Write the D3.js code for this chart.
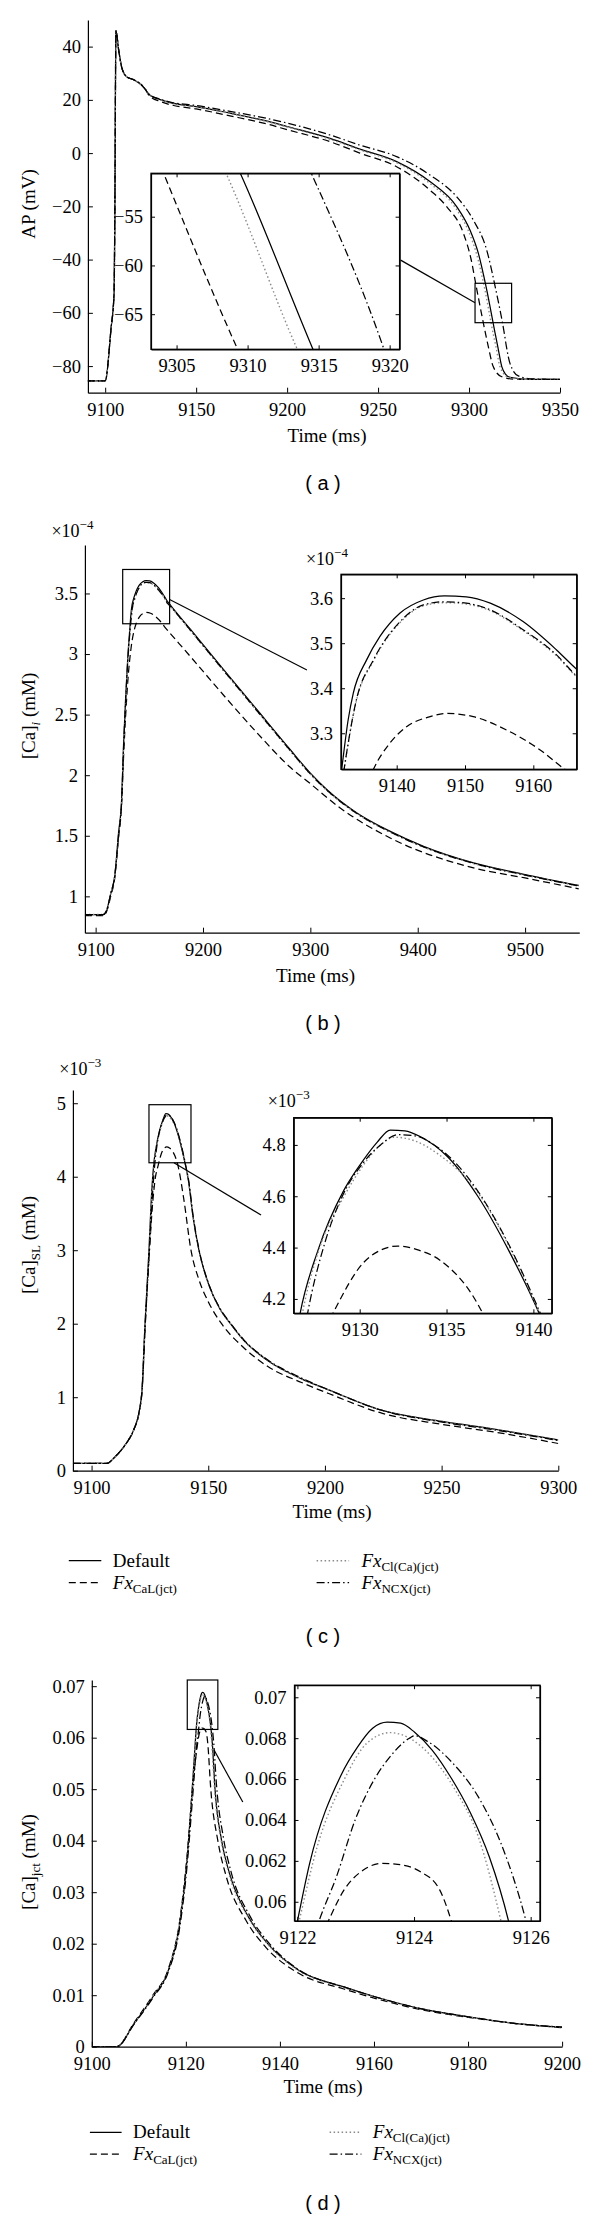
<!DOCTYPE html>
<html>
<head>
<meta charset="utf-8">
<script src="https://cdn.jsdelivr.net/npm/d3@7"></script>
<style>
body { margin: 0; background: #fff; }
text { font-family: "Liberation Serif", "Times New Roman", serif; fill: #000; }
.tag { font-family: "Liberation Sans", Arial, sans-serif; }
</style>
</head>
<body>
<div id="chart"></div>
<script>
// ---- (a) action potential, [time ms, mV]
var apUpstroke = [[9090,-85.6],[9100,-85.6],[9103.2,-66],[9104.9,-52.5],[9105.3,-24],[9105.9,46],[9107.4,38.8],
  [9109,32.5],[9111.6,28.8],[9115.8,27.5],[9120,25.6],[9122.2,23.8]];
var apDefaultTail = [[9124.3,21.9],[9130.6,20],[9136.9,18.8],[9150,17.5],[9168.6,15],[9189.7,11.9],[9200,10],
  [9223.6,5.5],[9240,1.5],[9260.2,-3.2],[9278.5,-10.7],[9293.2,-20.1],[9300.5,-28.9],[9305.1,-37.6],[9309.5,-50.6],
  [9314.6,-68.6],[9315.8,-72.7],[9318,-80.2],[9320,-83],[9322.5,-84.2],[9333.5,-85],[9350,-85]];
var apCaLTail = [[9124.3,21.5],[9130.6,19.3],[9136.9,18],[9150,16.6],[9168.6,14],[9189.7,10.8],[9200,8.8],
  [9223.6,4.3],[9240,0],[9260.2,-5.1],[9278.5,-13.9],[9287.7,-20.1],[9296.9,-30.1],[9301,-39.5],[9304.1,-50.6],
  [9309.3,-68.6],[9310.6,-72.7],[9313.3,-80.2],[9318,-84],[9326.2,-85],[9350,-85]];
var apClCaTail = [[9124.3,21.9],[9130.6,20],[9136.9,18.7],[9150,17.4],[9168.6,14.9],[9189.7,11.7],[9200,9.8],
  [9223.6,5.2],[9240,1.2],[9260.2,-3.6],[9278.5,-11.4],[9292.5,-20.5],[9299.5,-29],[9304.1,-37.8],[9308.5,-50.6],
  [9313.5,-68.6],[9314.8,-72.7],[9317,-80.2],[9321.5,-84.2],[9332,-85],[9350,-85]];
var apNCXTail = [[9124.3,22],[9130.6,20.2],[9136.9,19],[9150,17.9],[9168.6,15.7],[9189.7,12.9],[9200,11.3],
  [9223.6,6.8],[9240,3],[9260.2,-1.3],[9278.5,-8.2],[9293.2,-16.4],[9302.3,-25.1],[9309.7,-36.4],[9314.5,-50.6],
  [9319.6,-68.6],[9320.5,-72.5],[9322.5,-79],[9327.1,-83.7],[9335,-84.8],[9350,-85]];
var apDefault = apUpstroke.concat(apDefaultTail);
var apCaL = apUpstroke.concat(apCaLTail);
var apClCa = apUpstroke.concat(apClCaTail);
var apNCX = apUpstroke.concat(apNCXTail);

// ---- (b) [Ca]i, x1e-4 mM
var caiDefault = [[9090,0.85],[9107,0.85],[9110,0.88],[9114,1.02],[9117.8,1.17],[9121.3,1.52],[9124.2,1.8],[9126,2.25],
  [9128,2.65],[9130,2.98],[9131.95,3.22],[9132.9,3.33],[9133.65,3.389],[9135.6,3.463],[9137.55,3.515],[9140.5,3.567],
  [9143.9,3.596],[9147,3.605],[9150.2,3.603],[9153.7,3.589],[9158.5,3.548],[9163.4,3.485],[9166.35,3.442],[9170,3.4],
  [9188.2,3.205],[9219.2,2.872],[9250.3,2.54],[9281.3,2.21],[9300,2.017],[9315.5,1.88],[9343.4,1.688],[9374.4,1.536],
  [9405.4,1.413],[9452,1.276],[9500,1.18],[9550,1.09]];
var caiCaL = [[9090,0.84],[9107,0.84],[9110,0.87],[9114,1.0],[9117.8,1.15],[9121.3,1.48],[9124.2,1.76],[9126,2.15],
  [9128,2.5],[9130,2.78],[9133,3.05],[9136.6,3.22],[9139,3.278],[9141.5,3.315],[9144.9,3.337],[9147.3,3.344],
  [9151.2,3.337],[9156.1,3.307],[9161,3.263],[9164.6,3.22],[9170,3.165],[9188.2,2.98],[9219.2,2.66],[9250.3,2.35],
  [9281.3,2.065],[9300,1.93],[9327.8,1.729],[9374.4,1.482],[9452,1.235],[9500,1.152],[9550,1.062]];
var caiClCa = [[9090,0.85],[9107,0.85],[9110,0.88],[9114,1.02],[9117.8,1.17],[9121.3,1.5],[9124.2,1.78],[9126,2.21],
  [9128,2.61],[9130,2.94],[9132.3,3.218],[9134.1,3.372],[9136.6,3.461],[9140.5,3.546],[9143.9,3.583],[9147,3.59],
  [9150.2,3.587],[9153.7,3.572],[9158.5,3.528],[9163.4,3.472],[9166.35,3.425],[9170,3.388],[9188.2,3.195],
  [9219.2,2.862],[9250.3,2.53],[9281.3,2.2],[9300,2.008],[9315.5,1.873],[9343.4,1.682],[9374.4,1.53],[9405.4,1.407],
  [9452,1.271],[9500,1.175],[9550,1.085]];
var caiNCX = [[9090,0.85],[9107,0.85],[9110,0.88],[9114,1.02],[9117.8,1.17],[9121.3,1.5],[9124.2,1.78],[9126,2.22],
  [9128,2.62],[9130,2.95],[9132.3,3.22],[9134.1,3.374],[9136.6,3.463],[9140.5,3.548],[9143.9,3.585],[9147,3.592],
  [9150.2,3.589],[9153.7,3.574],[9158.5,3.53],[9163.4,3.474],[9166.35,3.427],[9170,3.39],[9188.2,3.197],
  [9219.2,2.864],[9250.3,2.532],[9281.3,2.203],[9300,2.01],[9315.5,1.875],[9343.4,1.683],[9374.4,1.531],
  [9405.4,1.408],[9452,1.272],[9500,1.176],[9550,1.086]];

// ---- (c) [Ca]SL, x1e-3 mM
var caslDefault = [[9092,0.1],[9106.6,0.1],[9109.8,0.18],[9114.8,0.37],[9118,0.55],[9120.5,0.82],[9121.6,1.09],
  [9122.9,2.0],[9124.6,3.0],[9125.6,3.7],[9126.57,4.144],[9127.6,4.39],[9129.1,4.625],[9130.2,4.74],[9131,4.81],
  [9131.76,4.858],[9132.6,4.855],[9133.5,4.832],[9135.06,4.754],[9136.8,4.6],[9138.57,4.39],[9140.33,4.144],
  [9141.5,3.95],[9143.5,3.45],[9146,3.0],[9150,2.55],[9155,2.2],[9159.5,2.0],[9165,1.78],[9175.4,1.5],[9190,1.25],
  [9201.6,1.1],[9224.6,0.82],[9250.3,0.67],[9273.8,0.56],[9300,0.42]];
var caslCaL = [[9092,0.1],[9106.6,0.1],[9109.8,0.18],[9114.8,0.37],[9118,0.55],[9120.5,0.82],[9121.6,1.09],
  [9123,2.0],[9124.8,3.0],[9126.2,3.65],[9127.3,3.98],[9128.46,4.144],[9130.2,4.34],[9131.2,4.39],[9132.2,4.406],
  [9133.4,4.39],[9134.6,4.352],[9137.08,4.144],[9139.5,3.7],[9142.6,3.0],[9146,2.6],[9150,2.3],[9155.7,2.0],
  [9165,1.68],[9175.4,1.42],[9190,1.2],[9201.6,1.05],[9224.6,0.78],[9250.3,0.63],[9273.8,0.52],[9300,0.37]];
var caslClCa = [[9092,0.1],[9106.6,0.1],[9109.8,0.18],[9114.8,0.37],[9118,0.55],[9120.5,0.82],[9121.6,1.08],
  [9122.9,1.99],[9124.6,2.98],[9125.8,3.75],[9126.7,4.144],[9127.7,4.4],[9129.1,4.6],[9130.2,4.72],[9131.2,4.8],
  [9132,4.83],[9133.2,4.815],[9134.5,4.765],[9136.8,4.615],[9138.6,4.405],[9140.35,4.144],[9141.5,3.95],[9143.5,3.45],
  [9146,3.0],[9150,2.55],[9155,2.2],[9159.5,2.0],[9165,1.78],[9175.4,1.5],[9190,1.25],[9201.6,1.1],[9224.6,0.82],
  [9250.3,0.665],[9273.8,0.555],[9300,0.415]];
var caslNCX = [[9092,0.1],[9106.6,0.1],[9109.8,0.18],[9114.8,0.37],[9118,0.55],[9120.5,0.82],[9121.6,1.07],
  [9123,1.98],[9124.7,2.95],[9126,3.7],[9127,4.144],[9128,4.42],[9129,4.6],[9130.2,4.73],[9131.2,4.8],[9132.2,4.84],
  [9133.2,4.835],[9134.5,4.79],[9135.06,4.76],[9136.8,4.62],[9138.6,4.41],[9140.4,4.144],[9141.6,3.95],[9143.6,3.45],
  [9146.1,3.0],[9150,2.56],[9155,2.21],[9159.5,2.01],[9165,1.79],[9175.4,1.51],[9190,1.26],[9201.6,1.1],
  [9224.6,0.82],[9250.3,0.66],[9273.8,0.55],[9300,0.41]];

// ---- (d) [Ca]jct, mM
var cajDefault = [[9100,0],[9105.3,0],[9109,0.0045],[9113,0.0097],[9116.3,0.0149],[9118.7,0.0239],[9120.3,0.0368],
  [9121.2,0.048],[9122,0.05906],[9122.21,0.06188],[9122.75,0.0662],[9123.03,0.06756],[9123.29,0.06848],
  [9123.54,0.06878],[9123.77,0.06873],[9124.01,0.06829],[9124.31,0.06742],[9124.64,0.06604],[9124.97,0.06433],
  [9125.29,0.0622],[9125.62,0.05906],[9126.2,0.05],[9127.6,0.04],[9129.3,0.0336],[9133.3,0.0252],[9137.4,0.02],
  [9143.9,0.0149],[9153.6,0.0116],[9160.2,0.0097],[9169.9,0.0074],[9180.1,0.0058],[9190.2,0.0045],[9200,0.0038]];
var cajCaL = [[9100,0],[9105.3,0],[9109,0.0047],[9113,0.01],[9116.3,0.0152],[9118.7,0.0245],[9120.3,0.0375],
  [9121.5,0.051],[9122.53,0.05906],[9122.8,0.06058],[9123.13,0.06155],[9123.46,0.06188],[9123.72,0.06183],
  [9124.11,0.06147],[9124.44,0.06058],[9124.64,0.05906],[9125.3,0.05],[9126.8,0.04],[9128.6,0.033],[9132.8,0.0245],
  [9137,0.0193],[9143.9,0.0143],[9153.6,0.0112],[9160.2,0.0094],[9169.9,0.0072],[9180.1,0.0057],[9190.2,0.0045],
  [9200,0.0037]];
var cajClCa = [[9100,0],[9105.3,0],[9109,0.0045],[9113,0.0098],[9116.3,0.015],[9118.7,0.024],[9120.3,0.037],
  [9121.2,0.048],[9122.03,0.05906],[9122.34,0.0627],[9122.8,0.06596],[9123.19,0.06775],[9123.59,0.06827],
  [9123.98,0.0679],[9124.3,0.0671],[9124.7,0.0655],[9125.1,0.0632],[9125.49,0.05906],[9126.1,0.05],[9127.5,0.04],
  [9129.2,0.0334],[9133.3,0.025],[9137.4,0.0199],[9143.9,0.0148],[9153.6,0.0115],[9160.2,0.0096],[9169.9,0.0074],
  [9180.1,0.0058],[9190.2,0.0045],[9200,0.0038]];
var cajNCX = [[9100,0],[9105.3,0],[9109,0.0044],[9113,0.0095],[9116.3,0.0146],[9118.7,0.0232],[9120.3,0.0355],
  [9121.4,0.048],[9122.37,0.05906],[9122.67,0.06123],[9122.99,0.064],[9123.33,0.06604],[9123.59,0.0671],
  [9123.92,0.068],[9124.01,0.06812],[9124.24,0.06783],[9124.64,0.06685],[9125.1,0.06514],[9125.49,0.06286],
  [9125.92,0.05906],[9126.5,0.051],[9128,0.0405],[9129.6,0.034],[9133.6,0.0254],[9137.6,0.0202],[9143.9,0.015],
  [9153.6,0.0116],[9160.2,0.0097],[9169.9,0.0074],[9180.1,0.0058],[9190.2,0.0045],[9200,0.0038]];

// ---- ticks
var apXTicks = [9100,9150,9200,9250,9300,9350], apYTicks = [-80,-60,-40,-20,0,20,40];
var apInsetXTicks = [9305,9310,9315,9320], apInsetYTicks = [-65,-60,-55];
var caiXTicks = [9100,9200,9300,9400,9500], caiYTicks = [1,1.5,2,2.5,3,3.5];
var caiInsetXTicks = [9140,9150,9160], caiInsetYTicks = [3.3,3.4,3.5,3.6];
var caslXTicks = [9100,9150,9200,9250,9300], caslYTicks = [0,1,2,3,4,5];
var caslInsetXTicks = [9130,9135,9140], caslInsetYTicks = [4.2,4.4,4.6,4.8];
var cajXTicks = [9100,9120,9140,9160,9180,9200], cajYTicks = [0,0.01,0.02,0.03,0.04,0.05,0.06,0.07];
var cajInsetXTicks = [9122,9124,9126], cajInsetYTicks = [0.06,0.062,0.064,0.066,0.068,0.07];

// legend entries: name + subscript
var legendNames = ['Default', 'Fx', 'Fx', 'Fx'];
var legendSubs = ['', 'CaL(jct)', 'Cl(Ca)(jct)', 'NCX(jct)'];

// line styles in series order: Default, FxCaL, FxCl(Ca), FxNCX
var styles = [
  { dash: null, color: '#000' },
  { dash: '7,4', color: '#000' },
  { dash: '1.5,2.5', color: '#8a8a8a' },
  { dash: '8,3,1.5,3', color: '#000' }
];

var svg = d3.select('#chart').append('svg')
  .attr('width', 600).attr('height', 2221)
  .attr('viewBox', '0 0 600 2221');
svg.append('rect').attr('width', 600).attr('height', 2221).attr('fill', '#fff');

var fmt = function(d) { return String(d).replace('-', '\u2212'); };
var TICK_FONT = 18.5;

var panels = [
  {
    id: 'a', series: [apDefault, apCaL, apClCa, apNCX],
    box: { l: 87.9, r: 560, t: 20, b: 392.7 }, xDomain: [9090.5, 9350], yDomain: [-90, 50],
    xTicks: apXTicks, yTicks: apYTicks,
    xLabel: { x: 327, y: 441.7 }, yLabel: { y: 204, parts: [['AP (mV)', 0]] },
    zoom: { x: [9303.3, 9323.4], y: [-63.7, -48.9] }, connector: [[9262.4, -40.2], [9303.3, -56.2]],
    inset: { box: { l: 151, r: 399.6, t: 173.3, b: 349.3 }, xDomain: [9303.2, 9320.7], yDomain: [-68.6, -50.55],
      xTicks: apInsetXTicks, yTicks: apInsetYTicks },
    tag: { text: '( a )', y: 490 }
  },
  {
    id: 'b', series: [caiDefault, caiCaL, caiClCa, caiNCX],
    box: { l: 84.9, r: 579.3, t: 545, b: 932.7 }, xDomain: [9090, 9550.5], yDomain: [0.7, 3.9],
    xTicks: caiXTicks, yTicks: caiYTicks,
    xLabel: { x: 315.5, y: 981.7 }, yLabel: { y: 716, parts: [['[Ca]', 0], ['i', 1], [' (mM)', 0]] },
    mult: { x: 51.4, y: 536.7, exp: '\u22124' },
    zoom: { x: [9125.2, 9168.9], y: [3.25, 3.698] }, connector: [[9168.9, 3.45], [9296.8, 2.868]],
    inset: { box: { l: 341, r: 576.7, t: 574.3, b: 769.3 }, xDomain: [9131.85, 9166.35], yDomain: [3.22, 3.653],
      xTicks: caiInsetXTicks, yTicks: caiInsetYTicks, mult: { x: 305.9, y: 565, exp: '\u22124' } },
    tag: { text: '( b )', y: 1030 }
  },
  {
    id: 'c', series: [caslDefault, caslCaL, caslClCa, caslNCX],
    box: { l: 72.9, r: 558.3, t: 1090, b: 1470.7 }, xDomain: [9092, 9300], yDomain: [0, 5.18],
    xTicks: caslXTicks, yTicks: caslYTicks,
    xLabel: { x: 332, y: 1517.7 }, yLabel: { y: 1245, parts: [['[Ca]', 0], ['SL', 2], [' (mM)', 0]] },
    mult: { x: 59.3, y: 1075, exp: '\u22123' },
    zoom: { x: [9124.6, 9142.6], y: [4.19, 4.98] }, connector: [[9135.3, 4.19], [9172.6, 3.48]],
    inset: { box: { l: 293.7, r: 551.8, t: 1117.7, b: 1313.3 }, xDomain: [9126.2, 9141.06], yDomain: [4.144, 4.906],
      xTicks: caslInsetXTicks, yTicks: caslInsetYTicks, mult: { x: 267.7, y: 1106.7, exp: '\u22123' } },
    legend: { rows: [1560.7, 1582.7], cols: [[68.8, 101.3, 112.8], [316.6, 349.1, 361.4]] },
    tag: { text: '( c )', y: 1643.3 }
  },
  {
    id: 'd', series: [cajDefault, cajCaL, cajClCa, cajNCX],
    box: { l: 91.8, r: 562.1, t: 1680, b: 2046.7 }, xDomain: [9100, 9200], yDomain: [0, 0.0712],
    xTicks: cajXTicks, yTicks: cajYTicks,
    xLabel: { x: 323.1, y: 2092.7 }, yLabel: { y: 1862, parts: [['[Ca]', 0], ['jct', 2], [' (mM)', 0]] },
    zoom: { x: [9120.3, 9126.8], y: [0.0616, 0.0712] }, connector: [[9126.0, 0.0576], [9132.1, 0.0475]],
    inset: { box: { l: 294.5, r: 540, t: 1685.2, b: 1921 }, xDomain: [9121.95, 9126.16], yDomain: [0.05906, 0.07059],
      xTicks: cajInsetXTicks, yTicks: cajInsetYTicks },
    legend: { rows: [2132.3, 2154], cols: [[89.9, 121.6, 133.1], [329.6, 361.4, 372.8]] },
    tag: { text: '( d )', y: 2210 }
  }
];

var defs = svg.append('defs');

function drawCurves(g, series, x, y, clipId) {
  var line = d3.line().x(d => x(d[0])).y(d => y(d[1])).curve(d3.curveMonotoneX);
  var cg = g.append('g').attr('clip-path', 'url(#' + clipId + ')');
  series.forEach(function(s, i) {
    cg.append('path')
      .attr('d', line(s))
      .attr('fill', 'none')
      .attr('stroke', styles[i].color)
      .attr('stroke-width', i == 2 ? 1.4 : 1.25)
      .attr('stroke-dasharray', styles[i].dash);
  });
}

function styleAxis(sel) {
  sel.attr('font-family', null).attr('font-size', TICK_FONT);
  sel.selectAll('path.domain').attr('stroke', '#000').attr('stroke-width', 1.2);
  sel.selectAll('.tick line').attr('stroke', '#000').attr('stroke-width', 1);
  sel.selectAll('.tick text').attr('fill', '#000');
}

function multiplier(g, m) {
  var t = g.append('text').attr('x', m.x).attr('y', m.y).attr('font-size', 18);
  t.append('tspan').text('\u00d710');
  t.append('tspan').attr('font-size', 13).attr('dy', -8).text(m.exp);
}

function drawPanel(p) {
  var g = svg.append('g').attr('id', 'panel-' + p.id);
  var x = d3.scaleLinear().domain(p.xDomain).range([p.box.l, p.box.r]);
  var y = d3.scaleLinear().domain(p.yDomain).range([p.box.b, p.box.t]);

  defs.append('clipPath').attr('id', 'clip-' + p.id).append('rect')
    .attr('x', p.box.l).attr('y', p.box.t - 2)
    .attr('width', p.box.r - p.box.l).attr('height', p.box.b - p.box.t + 2);

  drawCurves(g, p.series, x, y, 'clip-' + p.id);

  // main axes, ticks inward
  g.append('g').attr('transform', 'translate(0,' + p.box.b + ')')
    .call(d3.axisBottom(x).tickValues(p.xTicks).tickSize(-5).tickSizeOuter(0).tickPadding(10).tickFormat(fmt))
    .call(styleAxis);
  g.append('g').attr('transform', 'translate(' + p.box.l + ',0)')
    .call(d3.axisLeft(y).tickValues(p.yTicks).tickSize(-5).tickSizeOuter(0).tickPadding(7).tickFormat(fmt))
    .call(styleAxis);

  // axis titles
  g.append('text').attr('x', p.xLabel.x).attr('y', p.xLabel.y)
    .attr('text-anchor', 'middle').attr('font-size', 19).text('Time (ms)');
  var yl = g.append('text')
    .attr('transform', 'translate(35,' + p.yLabel.y + ') rotate(-90)')
    .attr('text-anchor', 'middle').attr('font-size', 19);
  var shift = 0;
  p.yLabel.parts.forEach(function(part) {
    var ts = yl.append('tspan').text(part[0]);
    if (part[1]) {
      ts.attr('font-size', 13).attr('dy', 5 - shift);
      if (part[1] == 1) ts.attr('font-style', 'italic');
      shift = 5;
    } else {
      if (shift) ts.attr('dy', -shift);
      shift = 0;
    }
  });
  if (p.mult) multiplier(g, p.mult);

  // zoom box and connector
  g.append('rect')
    .attr('x', x(p.zoom.x[0])).attr('y', y(p.zoom.y[1]))
    .attr('width', x(p.zoom.x[1]) - x(p.zoom.x[0]))
    .attr('height', y(p.zoom.y[0]) - y(p.zoom.y[1]))
    .attr('fill', 'none').attr('stroke', '#000').attr('stroke-width', 1.2);
  g.append('line')
    .attr('x1', x(p.connector[0][0])).attr('y1', y(p.connector[0][1]))
    .attr('x2', x(p.connector[1][0])).attr('y2', y(p.connector[1][1]))
    .attr('stroke', '#000').attr('stroke-width', 1.2);

  // inset
  var ins = p.inset, ib = ins.box;
  var x2 = d3.scaleLinear().domain(ins.xDomain).range([ib.l, ib.r]);
  var y2 = d3.scaleLinear().domain(ins.yDomain).range([ib.b, ib.t]);
  var ig = g.append('g').attr('class', 'inset');
  ig.append('rect').attr('x', ib.l).attr('y', ib.t).attr('width', ib.r - ib.l).attr('height', ib.b - ib.t)
    .attr('fill', '#fff');
  defs.append('clipPath').attr('id', 'clip-in-' + p.id).append('rect')
    .attr('x', ib.l).attr('y', ib.t).attr('width', ib.r - ib.l).attr('height', ib.b - ib.t);
  drawCurves(ig, p.series, x2, y2, 'clip-in-' + p.id);

  ig.append('g').attr('transform', 'translate(0,' + ib.b + ')')
    .call(d3.axisBottom(x2).tickValues(ins.xTicks).tickSize(-4).tickSizeOuter(0).tickPadding(9.7).tickFormat(fmt))
    .call(styleAxis);
  ig.append('g').attr('transform', 'translate(' + ib.l + ',0)')
    .call(d3.axisLeft(y2).tickValues(ins.yTicks).tickSize(-4).tickSizeOuter(0).tickPadding(8).tickFormat(fmt))
    .call(styleAxis);
  ig.append('g').attr('transform', 'translate(0,' + ib.t + ')')
    .call(d3.axisTop(x2).tickValues(ins.xTicks).tickSize(-4).tickSizeOuter(0).tickFormat(''))
    .call(styleAxis);
  ig.append('g').attr('transform', 'translate(' + ib.r + ',0)')
    .call(d3.axisRight(y2).tickValues(ins.yTicks).tickSize(-4).tickSizeOuter(0).tickFormat(''))
    .call(styleAxis);
  ig.append('rect').attr('x', ib.l).attr('y', ib.t).attr('width', ib.r - ib.l).attr('height', ib.b - ib.t)
    .attr('fill', 'none').attr('stroke', '#000').attr('stroke-width', 1.3);
  if (ins.mult) multiplier(ig, ins.mult);

  // legend
  if (p.legend) {
    var lg = g.append('g').attr('class', 'legend');
    legendNames.forEach(function(name, i) {
      var col = p.legend.cols[Math.floor(i / 2)], ry = p.legend.rows[i % 2];
      lg.append('line').attr('x1', col[0]).attr('x2', col[1]).attr('y1', ry).attr('y2', ry)
        .attr('stroke', styles[i].color).attr('stroke-width', i == 2 ? 1.4 : 1.25)
        .attr('stroke-dasharray', styles[i].dash);
      var t = lg.append('text').attr('x', col[2]).attr('y', ry + 6).attr('font-size', 19);
      if (legendSubs[i]) {
        t.append('tspan').attr('font-style', 'italic').text(name);
        t.append('tspan').attr('font-size', 13).attr('dy', 4).text(legendSubs[i]);
      } else {
        t.text(name);
      }
    });
  }

  g.append('text').attr('class', 'tag').attr('x', 323).attr('y', p.tag.y)
    .attr('text-anchor', 'middle').attr('font-size', 20).text(p.tag.text);
}

panels.forEach(drawPanel);
</script>
</body>
</html>
